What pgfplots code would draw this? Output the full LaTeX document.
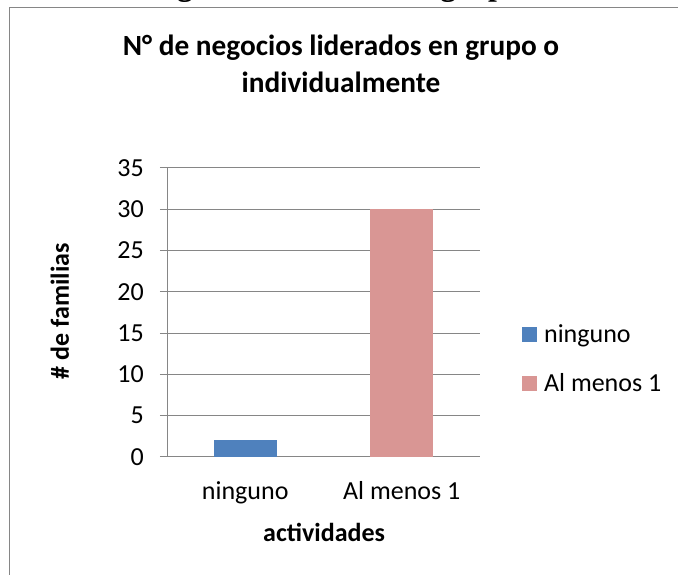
\documentclass[border=0pt]{standalone}
\usepackage{fontspec}
\setmainfont{Carlito}
\newfontfamily\serifb{Liberation Serif}
\usepackage{pgfplots}
\pgfplotsset{compat=1.18}
\definecolor{barblue}{HTML}{4F81BD}
\definecolor{barpink}{HTML}{D99694}
\definecolor{gridgray}{HTML}{868686}
\begin{document}
\begin{tikzpicture}
\path[use as bounding box] (0,0) rectangle (678pt,575pt);
\clip (0,0) rectangle (678pt,575pt);
\node[anchor=base west, inner sep=0pt, font=\serifb\bfseries\fontsize{31.7}{36}\selectfont] at (140pt,579.5pt) {Negocios liderados en grupo o individualmente};
\node[anchor=base east, inner sep=0pt, font=\serifb\bfseries\fontsize{31.7}{36}\selectfont] at (131pt,579.5pt) {Tabla 7.};
\draw[gridgray, line width=1pt] (9.5pt,0pt) -- (9.5pt,567pt) -- (678pt,567pt);
\begin{axis}[
  at={(167pt,118pt)}, anchor=south west,
  scale only axis, width=313pt, height=289pt,
  ymin=0, ymax=35, ytick={0,5,...,35},
  xmin=-0.5, xmax=1.5, xtick={0,1}, xticklabels={ninguno, Al menos 1},
  ybar, bar width=63pt, bar shift=0pt,
  axis x line*=bottom, axis y line*=left,
  axis line style={gridgray, line width=1pt},
  ymajorgrids, grid style={gridgray, line width=1pt},
  tick align=outside, major tick length=7pt,
  ytick style={gridgray, line width=1pt},
  xtick style={draw=none},
  /pgf/number format/assume math mode=true,
  tick label style={font=\fontsize{26}{30}\selectfont},
  yticklabel style={inner sep=0pt, xshift=-16pt},
  xticklabel style={inner sep=0pt, anchor=base, yshift=-36pt},
  title={N° de negocios liderados en grupo o\\individualmente},
  title style={font=\bfseries\fontsize{29.3}{37}\selectfont, align=center, at={(axis description cs:0.556,1.338)}, anchor=center},
  xlabel={actividades},
  xlabel style={font=\bfseries\fontsize{26}{30}\selectfont, at={(axis description cs:0.502,-0.26)}, anchor=center},
  ylabel={\# de familias},
  every axis y label/.style={font=\bfseries\fontsize{26}{30}\selectfont, at={(axis description cs:-0.342,0.505)}, rotate=90, anchor=center},
  legend style={at={(axis description cs:1.134,0.339)}, anchor=west, draw=none, fill=none, inner sep=0pt,
    font=\fontsize{26}{30}\selectfont, row sep=26pt, cells={anchor=west},
    /tikz/every odd column/.append style={column sep=5pt}},
  legend image code/.code={\fill[#1] (0pt,-7.5pt) rectangle (15pt,7.5pt);},
]
\addplot[fill=barblue, draw=none] coordinates {(0,2)};
\addplot[fill=barpink, draw=none] coordinates {(1,30)};
\legend{ninguno, Al menos 1}
\end{axis}
\end{tikzpicture}
\end{document}
